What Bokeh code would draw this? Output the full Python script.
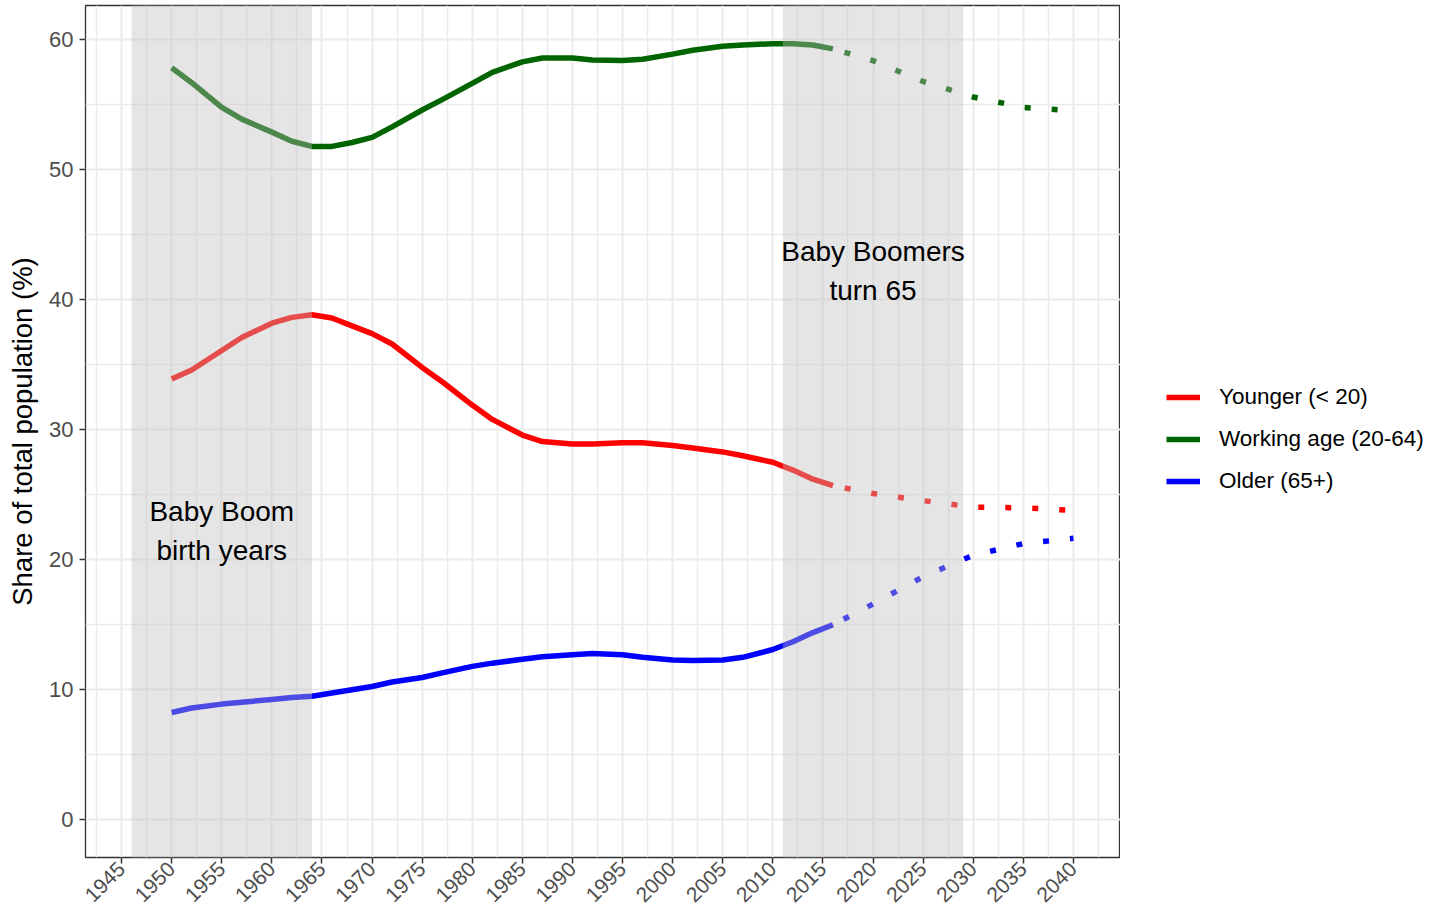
from bokeh.plotting import figure
from bokeh.models import FixedTicker, Range1d, Legend, LegendItem
from bokeh.layouts import row
from bokeh.embed import file_html
from bokeh.resources import INLINE
from bokeh.core.properties import value
import math

# ---------------- data ----------------
years_hist = [1950, 1952, 1955, 1957, 1960, 1962, 1964, 1966, 1968, 1970,
              1972, 1975, 1977, 1980, 1982, 1985, 1987, 1990, 1992, 1995,
              1997, 2000, 2002, 2005, 2007, 2010, 2012, 2014, 2016]
younger_hist = [33.9, 34.6, 36.1, 37.1, 38.2, 38.65, 38.85, 38.6, 38.0, 37.4,
                36.6, 34.8, 33.7, 31.9, 30.8, 29.6, 29.1, 28.9, 28.9, 29.0,
                29.0, 28.8, 28.6, 28.3, 28.0, 27.5, 26.9, 26.2, 25.7]
working_hist = [57.85, 56.7, 54.8, 53.9, 52.9, 52.2, 51.8, 51.8, 52.1, 52.5,
                53.3, 54.6, 55.4, 56.65, 57.5, 58.3, 58.6, 58.6, 58.45, 58.4,
                58.5, 58.9, 59.2, 59.5, 59.6, 59.7, 59.7, 59.6, 59.3]
older_hist = [8.25, 8.6, 8.9, 9.05, 9.25, 9.4, 9.5, 9.75, 10.0, 10.25,
              10.6, 10.95, 11.3, 11.8, 12.05, 12.35, 12.55, 12.7, 12.8, 12.7,
              12.5, 12.3, 12.25, 12.3, 12.5, 13.1, 13.7, 14.4, 15.0]

years_proj = [2016, 2020, 2025, 2030, 2035, 2040]
younger_proj = [25.7, 25.1, 24.55, 24.05, 24.0, 23.8]
working_proj = [59.3, 58.4, 56.8, 55.6, 54.8, 54.55]
older_proj = [15.0, 16.6, 18.7, 20.35, 21.25, 21.65]

series_names = ["Younger (< 20)", "Working age (20-64)", "Older (65+)"]
series_colors = ["#ff0000", "#006400", "#0000ff"]

boom_span = [1946, 1964]
turn65_span = [2011, 2029]

x_tick_years = list(range(1945, 2041, 5))
x_minor_years = [1942.5 + 5 * i for i in range(21)]
y_ticks = [0, 10, 20, 30, 40, 50, 60]
y_minor = [5, 15, 25, 35, 45, 55]

annot_text = ["Baby Boom\nbirth years", "Baby Boomers\nturn 65"]
annot_x = [1955, 2020]
annot_y = [22.2, 42.2]

FONT = "Liberation Sans"
LW = 5.5

# ---------------- main figure ----------------
p = figure(width=1120, height=917,
           x_range=Range1d(1941.4, 2044.7), y_range=Range1d(-2.9, 62.64),
           output_backend="svg", toolbar_location=None,
           min_border_left=85, min_border_right=0,
           min_border_top=5, min_border_bottom=60)

p.background_fill_color = "white"
p.border_fill_color = "white"
p.outline_line_color = "#333333"
p.outline_line_width = 1.3

p.xaxis.ticker = FixedTicker(ticks=x_tick_years, minor_ticks=x_minor_years)
p.yaxis.ticker = FixedTicker(ticks=y_ticks, minor_ticks=y_minor)

for ax in (p.xaxis[0], p.yaxis[0]):
    ax.axis_line_color = None
    ax.major_tick_line_color = "#333333"
    ax.major_tick_line_width = 1.5
    ax.major_tick_in = 0
    ax.minor_tick_line_color = None
    ax.major_label_text_font = FONT
    ax.major_label_text_color = "#4d4d4d"

p.xaxis.major_tick_out = 6
p.xaxis.major_label_standoff = 2
p.xaxis.major_label_text_font_size = "21px"
p.xaxis.major_label_orientation = math.pi / 4

p.yaxis.major_tick_out = 6
p.yaxis.major_label_standoff = 6
p.yaxis.major_label_text_font_size = "22px"
p.yaxis.axis_label = "Share of total population (%)"
p.yaxis.axis_label_text_font = FONT
p.yaxis.axis_label_text_font_size = "27.5px"
p.yaxis.axis_label_text_font_style = "normal"
p.yaxis.axis_label_text_color = "black"
p.yaxis.axis_label_standoff = 8

for g in (p.xgrid[0], p.ygrid[0]):
    g.grid_line_color = "#ebebeb"
    g.grid_line_width = 2
    g.minor_grid_line_color = "#ebebeb"
    g.minor_grid_line_width = 1.5

hist_series = [younger_hist, working_hist, older_hist]
proj_series = [younger_proj, working_proj, older_proj]
for color, hist, proj in zip(series_colors, hist_series, proj_series):
    p.line(years_hist, hist, line_color=color, line_width=LW,
           line_join="round", line_cap="butt")
    p.line(years_proj, proj, line_color=color, line_width=LW,
           line_dash="6 21", line_dash_offset=15, line_cap="butt")

# shaded spans drawn above the lines
p.quad(left=[boom_span[0], turn65_span[0]], right=[boom_span[1], turn65_span[1]],
       bottom=-100, top=100, fill_color="#bebebe", fill_alpha=0.4, line_color=None)

p.text(x=annot_x, y=annot_y, text=annot_text, text_align="center",
       text_baseline="middle", text_font=value(FONT), text_font_size="28px",
       text_line_height=1.27, text_color="black")

# ---------------- legend panel (second figure) ----------------
lg = figure(width=319, height=917, x_range=Range1d(0, 1), y_range=Range1d(0, 1),
            output_backend="svg", toolbar_location=None,
            x_axis_location=None, y_axis_location=None,
            min_border_left=0, min_border_right=0,
            min_border_top=0, min_border_bottom=0)
lg.grid.visible = False
lg.outline_line_color = None
lg.background_fill_color = "white"
lg.border_fill_color = "white"

# key-only renderers (kept outside the visible range of the legend panel)
key_renderers = [lg.line(x=[-5, -4], y=[-5, -5], line_color=c, line_width=LW,
                         line_cap="butt")
                 for c in series_colors]

legend = Legend(items=[LegendItem(label=n, renderers=[r])
                       for n, r in zip(series_names, key_renderers)],
                location=(46, 358.5))
legend.margin = 0
legend.padding = 10
legend.spacing = 6
legend.glyph_width = 34
legend.glyph_height = 36
legend.label_height = 36
legend.label_standoff = 19
legend.label_text_font = FONT
legend.label_text_font_size = "22.5px"
legend.label_text_color = "black"
legend.border_line_color = None
legend.background_fill_alpha = 0
lg.add_layout(legend)

layout = row(p, lg)
open("out.html", "w").write(file_html(layout, INLINE))
